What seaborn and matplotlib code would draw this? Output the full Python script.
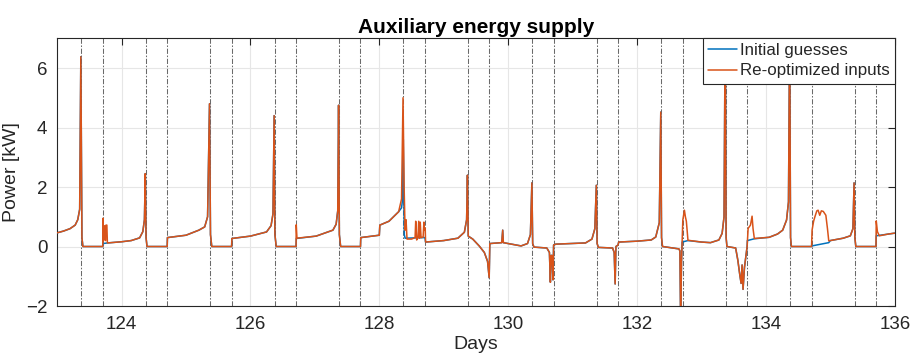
import numpy as np
import pandas as pd
import matplotlib
matplotlib.use("Agg")
import matplotlib.pyplot as plt
from matplotlib.lines import Line2D
import seaborn as sns

# Auxiliary power trace, (day, kW) vertices -- re-optimized inputs
reoptimized = [
    (123.000, 0.46), (123.100, 0.52), (123.200, 0.60), (123.280, 0.72), (123.320, 0.90), (123.350, 1.25),
    (123.368, 6.38), (123.385, 0.30), (123.400, 0.00),
    (123.708, 0.00), (123.712, 0.95), (123.718, 0.20), (123.726, 0.70), (123.734, 0.25), (123.742, 0.68),
    (123.750, 0.20), (123.758, 0.72), (123.772, 0.72), (123.780, 0.12),
    (124.000, 0.16), (124.150, 0.20), (124.280, 0.29), (124.330, 0.50), (124.355, 0.90), (124.368, 2.45),
    (124.380, 0.30), (124.395, 0.00),
    (124.708, 0.00), (124.712, 0.30), (125.000, 0.38), (125.200, 0.55), (125.290, 0.66), (125.335, 1.00),
    (125.365, 4.80), (125.380, 0.40), (125.400, 0.00),
    (125.708, 0.00), (125.712, 0.27), (126.000, 0.35), (126.250, 0.49), (126.320, 0.70), (126.350, 1.10),
    (126.368, 4.40), (126.380, 0.40), (126.400, 0.00),
    (126.708, 0.00), (126.711, 0.73), (126.722, 0.28), (127.020, 0.35), (127.280, 0.55), (127.330, 0.75),
    (127.355, 1.20), (127.368, 4.75), (127.380, 0.40), (127.400, 0.00),
    (127.708, 0.00), (127.712, 0.30), (128.000, 0.38), (128.008, 0.72), (128.150, 0.85), (128.300, 1.17),
    (128.345, 1.60), (128.368, 5.00), (128.385, 2.00), (128.400, 0.55), (128.415, 0.90), (128.430, 0.25),
    (128.500, 0.25), (128.555, 0.30), (128.565, 0.85), (128.580, 0.22), (128.600, 0.30), (128.612, 0.85),
    (128.625, 0.28), (128.635, 0.82), (128.648, 0.30), (128.680, 0.32), (128.692, 0.82), (128.700, 0.55),
    (128.712, 0.62), (128.718, 0.15),
    (129.000, 0.20), (129.220, 0.28), (129.320, 0.48), (129.355, 0.90), (129.368, 2.40), (129.380, 0.35),
    (129.450, 0.25), (129.550, 0.02), (129.630, -0.20), (129.680, -0.50), (129.705, -1.05), (129.715, 0.10),
    (129.900, 0.13), (129.915, 0.55), (129.925, 0.13), (130.000, 0.10), (130.200, 0.02), (130.300, 0.10),
    (130.345, 0.40), (130.368, 2.14), (130.380, 0.10), (130.400, -0.02),
    (130.600, -0.05), (130.640, -0.20), (130.655, -1.20), (130.665, -0.30), (130.680, -0.30), (130.695, -1.12),
    (130.705, 0.05), (130.740, 0.08),
    (131.200, 0.12), (131.300, 0.25), (131.345, 0.60), (131.368, 2.06), (131.380, 0.10), (131.400, -0.03),
    (131.620, -0.05), (131.645, -0.20), (131.660, -1.26), (131.672, 0.00), (131.705, 0.05), (131.715, 0.15),
    (132.000, 0.18), (132.220, 0.22), (132.290, 0.32), (132.345, 0.80), (132.368, 4.52), (132.380, 0.30),
    (132.395, 0.00),
    (132.650, -0.08), (132.665, -0.15), (132.676, -2.50), (132.690, -0.50), (132.700, 0.15), (132.710, 0.89),
    (132.735, 1.22), (132.750, 1.00), (132.765, 0.85), (132.790, 0.21),
    (133.000, 0.15), (133.140, 0.13), (133.270, 0.22), (133.320, 0.44), (133.350, 1.00), (133.368, 7.60),
    (133.382, 0.30), (133.395, 0.00),
    (133.530, -0.05), (133.564, -0.46), (133.595, -0.96), (133.615, -1.24), (133.630, -0.62), (133.645, -1.44),
    (133.667, -0.70), (133.688, -0.35), (133.708, 0.00), (133.724, 0.61), (133.760, 0.72), (133.785, 1.02),
    (133.800, 0.60), (133.820, 0.27),
    (134.050, 0.31), (134.180, 0.42), (134.260, 0.55), (134.320, 0.89), (134.350, 1.50), (134.368, 7.20),
    (134.382, 0.30), (134.395, 0.00),
    (134.708, 0.00), (134.716, 0.55), (134.740, 0.85), (134.760, 1.00), (134.790, 1.20), (134.810, 1.22),
    (134.835, 1.05), (134.860, 1.20), (134.890, 1.18), (134.930, 1.05), (134.955, 0.60), (134.975, 0.19),
    (135.000, 0.20), (135.200, 0.28), (135.310, 0.36), (135.350, 0.60), (135.368, 2.14), (135.380, 0.30),
    (135.395, 0.00),
    (135.708, 0.00), (135.712, 0.86), (135.730, 0.50), (135.760, 0.36), (135.900, 0.42), (136.000, 0.45),
]

# Auxiliary power trace, (day, kW) vertices -- initial guesses
initial = [
    (123.000, 0.46), (123.100, 0.52), (123.200, 0.60), (123.280, 0.72), (123.320, 0.90), (123.350, 1.25),
    (123.368, 6.38), (123.385, 0.30), (123.400, 0.00),
    (123.708, 0.00), (123.712, 0.10), (123.780, 0.12),
    (124.000, 0.16), (124.150, 0.20), (124.280, 0.29), (124.330, 0.50), (124.355, 0.90), (124.368, 2.45),
    (124.380, 0.30), (124.395, 0.00),
    (124.708, 0.00), (124.712, 0.30), (125.000, 0.38), (125.200, 0.55), (125.290, 0.66), (125.335, 1.00),
    (125.365, 4.80), (125.380, 0.40), (125.400, 0.00),
    (125.708, 0.00), (125.712, 0.27), (126.000, 0.35), (126.250, 0.49), (126.320, 0.70), (126.350, 1.10),
    (126.368, 4.40), (126.380, 0.40), (126.400, 0.00),
    (126.708, 0.00), (126.712, 0.27), (127.020, 0.35), (127.280, 0.55), (127.330, 0.75),
    (127.355, 1.20), (127.368, 4.75), (127.380, 0.40), (127.400, 0.00),
    (127.708, 0.00), (127.712, 0.30), (128.000, 0.38), (128.008, 0.72), (128.150, 0.85), (128.300, 1.17),
    (128.345, 1.30), (128.362, 1.60), (128.372, 3.60), (128.388, 0.40), (128.400, 0.28), (128.708, 0.30),
    (128.718, 0.15),
    (129.000, 0.20), (129.220, 0.28), (129.320, 0.48), (129.355, 0.90), (129.368, 2.40), (129.380, 0.35),
    (129.450, 0.25), (129.550, 0.02), (129.630, -0.20), (129.680, -0.50), (129.705, -1.05), (129.715, 0.10),
    (129.900, 0.13), (129.915, 0.55), (129.925, 0.13), (130.000, 0.10), (130.200, 0.02), (130.300, 0.10),
    (130.345, 0.40), (130.368, 2.14), (130.380, 0.10), (130.400, -0.02),
    (130.600, -0.05), (130.640, -0.20), (130.655, -1.20), (130.665, -0.30), (130.680, -0.30), (130.695, -1.12),
    (130.705, 0.05), (130.740, 0.08),
    (131.200, 0.12), (131.300, 0.25), (131.345, 0.60), (131.368, 2.06), (131.380, 0.10), (131.400, -0.03),
    (131.620, -0.05), (131.645, -0.20), (131.660, -1.26), (131.672, 0.00), (131.705, 0.05), (131.715, 0.15),
    (132.000, 0.18), (132.220, 0.22), (132.290, 0.32), (132.345, 0.80), (132.368, 4.52), (132.380, 0.30),
    (132.395, 0.00),
    (132.650, -0.08), (132.665, -0.15), (132.676, -2.50), (132.690, -0.50), (132.700, 0.15), (132.790, 0.20),
    (133.000, 0.15), (133.140, 0.13), (133.270, 0.22), (133.320, 0.44), (133.350, 1.00), (133.368, 7.60),
    (133.382, 0.30), (133.395, 0.00),
    (133.530, -0.05), (133.564, -0.46), (133.595, -0.96), (133.615, -1.24), (133.630, -0.62), (133.645, -1.44),
    (133.667, -0.70), (133.688, -0.35), (133.708, 0.00), (133.712, 0.20), (133.820, 0.26),
    (134.050, 0.31), (134.180, 0.42), (134.260, 0.55), (134.320, 0.89), (134.350, 1.50), (134.368, 7.20),
    (134.382, 0.30), (134.395, 0.00),
    (134.708, 0.00), (134.712, 0.02), (134.975, 0.13),
    (135.000, 0.20), (135.200, 0.28), (135.310, 0.36), (135.350, 0.60), (135.368, 2.14), (135.380, 0.30),
    (135.395, 0.00),
    (135.708, 0.00), (135.712, 0.36), (135.900, 0.42), (136.000, 0.45),
]

# Start (09:00) and end (17:00) of each daily window
window_marks = [
    123.375, 123.708, 124.375, 124.708, 125.375, 125.708, 126.375, 126.708,
    127.375, 127.708, 128.375, 128.708, 129.375, 129.708, 130.375, 130.708,
    131.375, 131.708, 132.375, 132.708, 133.375, 133.708, 134.375, 134.708,
    135.375, 135.708,
]

series_names = ["Initial guesses", "Re-optimized inputs"]
series_colors = {"Initial guesses": "#0072BD", "Re-optimized inputs": "#D95319"}

x_ticks = [124, 126, 128, 130, 132, 134, 136]
y_ticks = [-2, 0, 2, 4, 6]

frames = []
for name, pts in zip(series_names, [initial, reoptimized]):
    arr = np.array(pts)
    frames.append(pd.DataFrame({"Days": arr[:, 0], "Power": arr[:, 1], "series": name}))
df = pd.concat(frames, ignore_index=True)

sns.set_theme(style="white")
plt.rcParams["font.family"] = ["Liberation Sans", "DejaVu Sans"]

fig = plt.figure(figsize=(9.14, 3.63), dpi=100)
ax = fig.add_axes([0.0625, 0.157, 0.9165, 0.7375])

ax.grid(True, color="#e6e6e6", linewidth=0.8, zorder=0)
ax.set_axisbelow(True)

for xm in window_marks:
    ax.axvline(xm, color="#6a6a6a", linewidth=0.75, linestyle=(0, (5, 1.6, 1.5, 1.6)), zorder=1)

sns.lineplot(data=df, x="Days", y="Power", hue="series", hue_order=series_names,
             palette=series_colors, estimator=None, sort=False, linewidth=1.1,
             legend=False, ax=ax, zorder=3)

ax.set_xlim(123, 136)
ax.set_ylim(-2, 7)
ax.set_xticks(x_ticks)
ax.set_yticks(y_ticks)

ax.tick_params(axis="both", which="both", direction="in", length=5, width=0.8,
               top=True, right=True, labelsize=13.5, colors="#262626", pad=7)
for sp in ax.spines.values():
    sp.set_color("#262626")
    sp.set_linewidth(0.8)

ax.set_title("Auxiliary energy supply", fontsize=15, fontweight="bold", color="black", pad=4)
ax.set_xlabel("Days", fontsize=14, color="#262626", labelpad=2)
ax.set_ylabel("Power [kW]", fontsize=14, color="#262626", labelpad=4)

handles = [Line2D([0], [0], color=series_colors[n], linewidth=1.1) for n in series_names]
leg = ax.legend(handles, series_names, loc="upper right", fontsize=12.2, frameon=True,
                fancybox=False, borderaxespad=0, handlelength=1.75, handletextpad=0.15,
                labelspacing=0.3, borderpad=0.3)
leg.get_frame().set_edgecolor("#262626")
leg.get_frame().set_linewidth(0.8)
leg.get_frame().set_alpha(1)
leg.set_zorder(5)

fig.savefig("out.png", dpi=100)
